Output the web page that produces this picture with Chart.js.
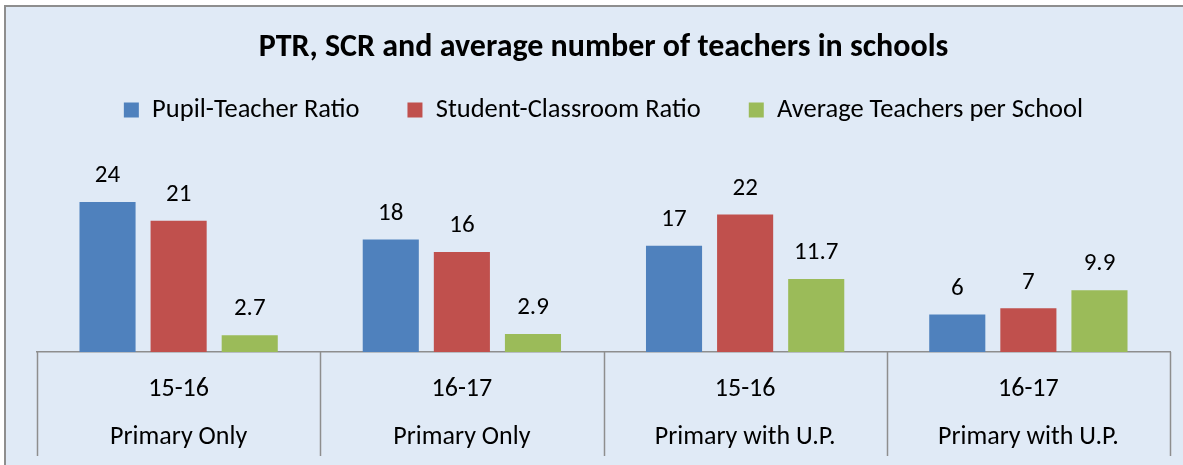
<!DOCTYPE html>
<html>
<head>
<meta charset="utf-8">
<script src="https://cdn.jsdelivr.net/npm/chart.js@4"></script>
<style>
  body { margin: 0; background: #fff; }
  #wrap { width: 1183px; height: 465px; }
</style>
</head>
<body>
<div id="wrap"><canvas id="myChart" width="1183" height="465"></canvas></div>
<script>
const years = ['15-16', '16-17', '15-16', '16-17'];
const schoolTypes = ['Primary Only', 'Primary Only', 'Primary with U.P.', 'Primary with U.P.'];
const pupilTeacher = [24, 18, 17, 6];
const studentClassroom = [21, 16, 22, 7];
const avgTeachers = [2.7, 2.9, 11.7, 9.9];

const FONT = 'Carlito, Lato, "Open Sans", sans-serif';

// background + outer frame
const bgPlugin = {
    id: 'bg',
    beforeDraw(chart) {
        const c = chart.ctx;
        c.save();
        c.fillStyle = '#ffffff';
        c.fillRect(0, 0, chart.width, chart.height);
        c.fillStyle = '#e0eaf6';
        c.fillRect(5, 6, chart.width, chart.height);
        c.strokeStyle = '#8e8e8e';
        c.lineWidth = 2;
        c.strokeRect(5, 6, chart.width + 10, chart.height + 10);
        c.restore();
    }
};

// value labels above bars + group separator lines below axis
const labelPlugin = {
    id: 'labels',
    afterDatasetsDraw(chart) {
        const c = chart.ctx;
        c.save();
        c.font = '25px ' + FONT;
        c.fillStyle = '#000';
        c.textAlign = 'center';
        c.textBaseline = 'middle';
        chart.data.datasets.forEach((ds, i) => {
            chart.getDatasetMeta(i).data.forEach((bar, j) => {
                c.fillText(String(ds.data[j]), bar.x, bar.y - 26);
            });
        });
        const x = chart.scales.x;
        const bottom = chart.chartArea.bottom;
        c.strokeStyle = '#8e8e8e';
        c.lineWidth = 1.5;
        c.beginPath();
        for (let i = 0; i <= years.length; i++) {
            const px = Math.round(x.getPixelForValue(i - 0.5)) + 0.5;
            c.moveTo(px, bottom);
            c.lineTo(px, bottom + 104);
        }
        c.stroke();
        c.restore();
    }
};

const ctx = document.getElementById('myChart').getContext('2d');
const myChart = new Chart(ctx, {
    type: 'bar',
    data: {
        labels: years.map((y, i) => [y, schoolTypes[i]]),
        datasets: [
            { label: 'Pupil-Teacher Ratio', data: pupilTeacher, backgroundColor: '#4f81bd' },
            { label: 'Student-Classroom Ratio', data: studentClassroom, backgroundColor: '#c0504d' },
            { label: 'Average Teachers per School', data: avgTeachers, backgroundColor: '#9bbb59' }
        ]
    },
    options: {
        responsive: false,
        animation: false,
        categoryPercentage: 0.753,
        barPercentage: 0.789,
        layout: { padding: { left: 37, right: 13, top: 8, bottom: 0 } },
        plugins: {
            title: {
                display: true,
                text: 'PTR, SCR and average number of teachers in schools',
                color: '#000',
                font: { family: FONT, size: 32, weight: 'bold', lineHeight: 1.2 },
                padding: { top: 20.8, bottom: -18.45 }
            },
            legend: {
                labels: {
                    color: '#000',
                    font: { family: FONT, size: 26.5 },
                    boxWidth: 15,
                    boxHeight: 15,
                    padding: 48
                }
            },
            tooltip: { enabled: false }
        },
        scales: {
            x: {
                grid: { display: false, drawTicks: false },
                border: { display: true, color: '#8e8e8e', width: 1.5 },
                ticks: {
                    color: '#000',
                    font: { family: FONT, size: 26, lineHeight: 1.846 },
                    padding: 14,
                    maxRotation: 0
                },
                afterFit(scale) { scale.height = 113; }
            },
            y: {
                display: false,
                min: 0,
                max: 35
            }
        }
    },
    plugins: [bgPlugin, labelPlugin]
});
</script>
</body>
</html>
